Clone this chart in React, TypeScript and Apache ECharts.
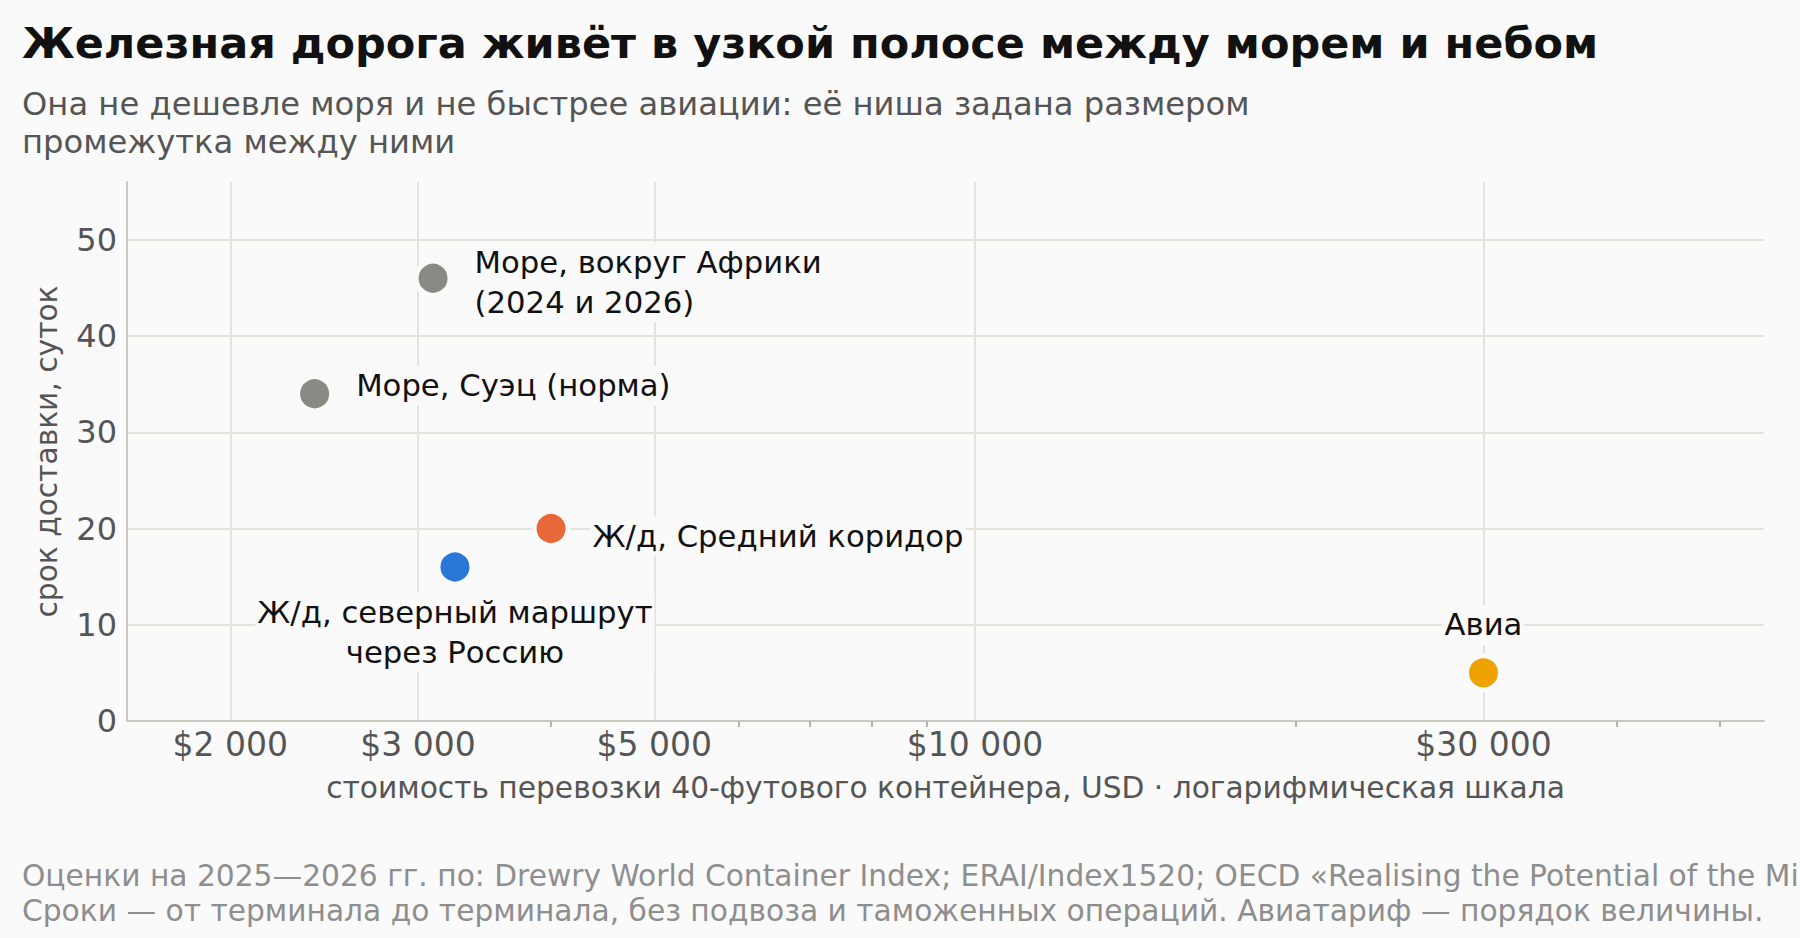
import { FC, useEffect, useRef } from "react";
import * as echarts from "echarts";

// данные: способ перевозки, стоимость контейнера (USD), срок (сутки)
const modes = [
    "Море, Суэц (норма)",
    "Море, вокруг Африки\n(2024 и 2026)",
    "Ж/д, северный маршрут\nчерез Россию",
    "Ж/д, Средний коридор",
    "Авиа",
];
const costUsd = [2400, 3100, 3250, 4000, 30000];
const transitDays = [34, 46, 16, 20, 5];
const modeColors = ["#8a8a84", "#8a8a84", "#2a78d6", "#e8683a", "#eea200"];

// деления осей
const xMajorTicks = [2000, 3000, 5000, 10000, 30000];
const xMinorTicks = [4000, 6000, 7000, 8000, 9000, 20000, 40000, 50000];
const xRange = [1600, 55000];
const yTicks = [0, 10, 20, 30, 40, 50];
const yRange = [0, 56];

const titleText = "Железная дорога живёт в узкой полосе между морем и небом";
const subtitleLines = [
    "Она не дешевле моря и не быстрее авиации: её ниша задана размером",
    "промежутка между ними",
];
const footerLines = [
    "Оценки на 2025—2026 гг. по: Drewry World Container Index; ERAI/Index1520; OECD «Realising the Potential of the Middle Corridor».",
    "Сроки — от терминала до терминала, без подвоза и таможенных операций. Авиатариф — порядок величины.",
];

const BG = "#fafafa";
const FONT = "DejaVu Sans";

// где стоит подпись у каждой точки
const labelPlacement: any[] = [
    { position: "right", distance: 20, offset: [0, -8] },
    { position: "right", distance: 20, offset: [0, 4] },
    { position: "inside", offset: [0, 65], align: "center" },
    { position: "right", distance: 20, offset: [0, 8] },
    { position: "inside", offset: [0, -48], align: "center" },
];

// $2 000 — разряды через неразрывный пробел
const fmtUsd = (v: number) => {
    const n = Math.round(Math.pow(10, v));
    return "$" + String(n).replace(/\B(?=(\d{3})+(?!\d))/g, "\u00a0");
};

const App: FC = () => {
    const chartRef = useRef<HTMLDivElement>(null);

    useEffect(() => {
        document.body.style.margin = "0";
        if (!chartRef.current) return;
        const chart = echarts.init(chartRef.current, null, { renderer: "svg" });

        const xMin = Math.log10(xRange[0]);
        const xMax = Math.log10(xRange[1]);
        const majorLogs = xMajorTicks.map((v) => Math.log10(v));
        const minorLogs = xMinorTicks.map((v) => Math.log10(v));

        const points = costUsd.map((c, i) => ({
            name: modes[i],
            value: [Math.log10(c), transitDays[i]],
            itemStyle: { color: modeColors[i] },
            label: { ...labelPlacement[i] },
        }));

        const option = {
            animation: false,
            backgroundColor: BG,
            textStyle: { fontFamily: FONT },
            grid: { left: 127, right: 36, top: 182, bottom: 217, containLabel: false },
            xAxis: [
                {
                    type: "value",
                    min: xMin,
                    max: xMax,
                    name: "стоимость перевозки 40-футового контейнера, USD · логарифмическая шкала",
                    nameLocation: "middle",
                    nameGap: 51,
                    nameTextStyle: { fontSize: 29.7, color: "#555555", fontFamily: FONT },
                    axisLine: { show: true, lineStyle: { color: "#c9c9bf", width: 2 } },
                    axisTick: { show: false, customValues: majorLogs },
                    axisLabel: {
                        customValues: majorLogs,
                        formatter: fmtUsd,
                        fontSize: 33,
                        color: "#555555",
                        margin: 7,
                        fontFamily: FONT,
                    },
                    splitLine: { show: true, lineStyle: { color: "#e3e3dd", width: 2 } },
                },
                {
                    type: "value",
                    min: xMin,
                    max: xMax,
                    position: "bottom",
                    axisLine: { show: false },
                    axisTick: {
                        show: true,
                        customValues: minorLogs,
                        length: 6,
                        lineStyle: { color: "#b5b5ab", width: 2 },
                    },
                    axisLabel: { show: false },
                    splitLine: { show: false },
                },
            ],
            yAxis: {
                type: "value",
                min: yRange[0],
                max: yRange[1],
                name: "срок доставки, суток",
                nameLocation: "middle",
                nameGap: 66,
                nameTextStyle: { fontSize: 29.7, color: "#555555", fontFamily: FONT },
                axisLine: { show: true, lineStyle: { color: "#c9c9bf", width: 2 } },
                axisTick: { show: false, customValues: yTicks },
                axisLabel: {
                    customValues: yTicks,
                    fontSize: 32,
                    color: "#555555",
                    margin: 10,
                    fontFamily: FONT,
                },
                splitLine: { show: true, lineStyle: { color: "#e3e3dd", width: 2 } },
            },
            series: [
                {
                    type: "scatter",
                    xAxisIndex: 0,
                    symbol: "circle",
                    symbolSize: 34,
                    itemStyle: { borderColor: BG, borderWidth: 5, opacity: 1 },
                    label: {
                        show: true,
                        formatter: "{b}",
                        fontSize: 30.7,
                        lineHeight: 40,
                        color: "#111111",
                        fontFamily: FONT,
                        backgroundColor: BG,
                        padding: [0, 2],
                    },
                    emphasis: { disabled: true },
                    data: points,
                },
            ],
            graphic: [
                {
                    type: "text",
                    x: 22,
                    y: 43,
                    style: {
                        text: titleText,
                        fontSize: 43,
                        fontWeight: "bold",
                        fontFamily: FONT,
                        fill: "#111111",
                        verticalAlign: "middle",
                    },
                },
                ...subtitleLines.map((t, i) => ({
                    type: "text",
                    x: 22,
                    y: 104 + i * 38,
                    style: {
                        text: t,
                        fontSize: 32.2,
                        fontFamily: FONT,
                        fill: "#555555",
                        verticalAlign: "middle",
                    },
                })),
                ...footerLines.map((t, i) => ({
                    type: "text",
                    x: 22,
                    y: 875 + i * 35,
                    style: {
                        text: t,
                        fontSize: 29.7,
                        fontFamily: FONT,
                        fill: "#8e8e8e",
                        verticalAlign: "middle",
                    },
                })),
            ],
        };

        chart.setOption(option as any);

        return () => {
            chart.dispose();
        };
    }, []);

    return (
        <div
            ref={chartRef}
            style={{ position: "fixed", left: 0, top: 0, width: 1800, height: 938 }}
        />
    );
};

export default App;
